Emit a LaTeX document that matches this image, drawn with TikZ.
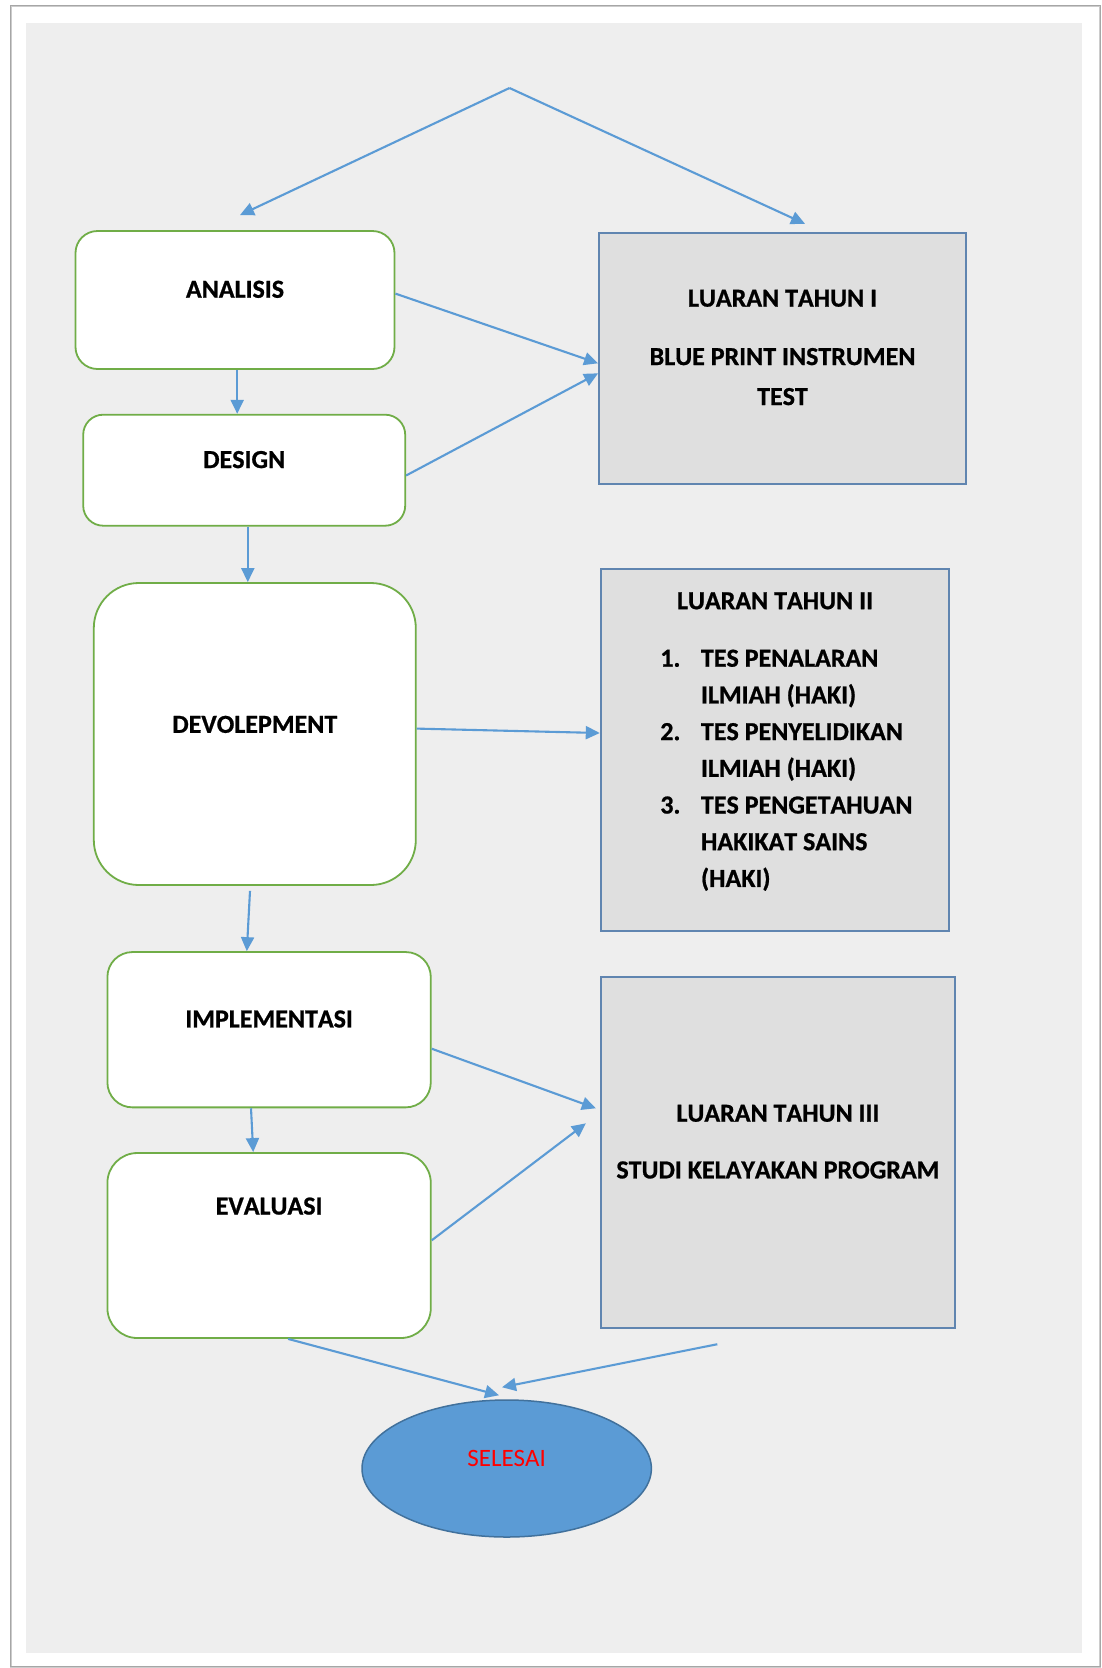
\documentclass[tikz,border=0pt]{standalone}
\usepackage{fontspec}
\setmainfont{Carlito}[Kerning=Off, BoldFeatures={FakeBold=0.8}]
\usetikzlibrary{arrows.meta,shapes.geometric}

\definecolor{flowgreen}{HTML}{70AD47}
\definecolor{flowblue}{HTML}{5B9BD5}
\definecolor{outfill}{HTML}{DFDFDF}
\definecolor{outedge}{HTML}{6085B0}
\definecolor{endedge}{HTML}{41719C}
\definecolor{pagegray}{HTML}{EEEEEE}

\newcommand{\itemno}[1]{\makebox[40.7pt][l]{#1}}

\begin{document}
\begin{tikzpicture}[x=1pt, y=-1pt,
    stepbox/.style={draw=flowgreen, line width=1.8pt, fill=white, rounded corners=#1, inner sep=0pt},
    stepbox/.default=22pt,
    outbox/.style={draw=outedge, line width=1.8pt, fill=outfill, inner sep=0pt},
    endnode/.style={draw=endedge, line width=1.5pt, fill=flowblue, ellipse, inner sep=0pt},
    boxtext/.style={font=\fontsize{26}{36.7}\selectfont\bfseries, inner sep=0pt},
    arrow/.style={draw=flowblue, line width=2.1pt, -{Triangle[length=14pt, width=13pt]}}
]
    \useasboundingbox (0,0) rectangle (1102,1668);
    % Page
    \fill[white] (0,0) rectangle (1102,1668);
    \draw[gray!40, line width=2.5pt] (11,6) rectangle (1100,1667);
    \draw[gray!70, line width=1pt] (10,5) rectangle (1100,1666);
    \fill[pagegray] (26,23) rectangle (1082,1653);

    % Steps
    \node[stepbox, minimum width=319, minimum height=138] (ana) at (235,300) {};
    \node[boxtext] (anat) at ([yshift=10.7]ana.center) {ANALISIS};
    \node[stepbox=20pt, minimum width=322, minimum height=111] (des) at (244.2,470.2) {};
    \node[boxtext] (dest) at ([yshift=10.6]des.center) {DESIGN};
    \node[stepbox=45pt, minimum width=322, minimum height=302] (dev) at (254.8,734) {};
    \node[boxtext] (devt) at ([yshift=9.6]dev.center) {DEVOLEPMENT};
    \node[stepbox=25pt, minimum width=323.4, minimum height=155.3] (imp) at (269.1,1029.7) {};
    \node[boxtext] (impt) at ([yshift=10.7]imp.center) {IMPLEMENTASI};
    \node[stepbox=30pt, minimum width=323.4, minimum height=185] (eva) at (269.1,1245.5) {};
    \node[boxtext] (evat) at ([yshift=39.4]eva.center) {EVALUASI};

    % Outputs
    \node[outbox, minimum width=367, minimum height=251.6] (lt1) at (782.5,358.5) {};
    \node[boxtext, font=\fontsize{26}{40}\selectfont\bfseries, align=center] (lt1t)
        at ([yshift=11]lt1.center) {LUARAN TAHUN I\\[18.4pt]BLUE PRINT INSTRUMEN\\TEST};
    \node[outbox, minimum width=348.6, minimum height=361.7] (lt2) at (775,750.2) {};
    \node[boxtext] (lt2t) at ([yshift=-32.4]lt2.north) {LUARAN TAHUN II};
    \node[boxtext, align=left, anchor=north west] (lt2l) at ([xshift=60.3, yshift=-81]lt2.north west)
        {\itemno{1.}TES PENALARAN\\ \itemno{}ILMIAH (HAKI)\\ \itemno{2.}TES PENYELIDIKAN\\
         \itemno{}ILMIAH (HAKI)\\ \itemno{3.}TES PENGETAHUAN\\ \itemno{}HAKIKAT SAINS\\ \itemno{}(HAKI)};
    \node[outbox, minimum width=354.3, minimum height=350.4] (lt3) at (777.9,1152.5) {};
    \node[boxtext, font=\fontsize{26}{37.7}\selectfont\bfseries, align=center] (lt3t)
        at ([yshift=10.8]lt3.center) {LUARAN TAHUN III\\[19pt]STUDI KELAYAKAN PROGRAM};

    % End
    \node[endnode, minimum width=289.4, minimum height=137] (sel) at (506.7,1468.5) {};
    \node[font=\fontsize{25}{30}\selectfont, text=red, inner sep=0pt] (selt) at ([yshift=10.5]sel.center) {SELESAI};

    % Connectors
    \coordinate (top) at (509.5,88);
    \coordinate (anatip) at ([xshift=5, yshift=15]ana.north);
    \coordinate (lt1tip) at ([xshift=22.5, yshift=8]lt1.north);
    \coordinate (lt3foot) at ([xshift=-60.6, yshift=-15.6]lt3.south);
    \draw[arrow] (top) -- (anatip);
    \draw[arrow] (top) -- (lt1tip);
    \draw[arrow] ([xshift=2.2]ana.south) -- ([xshift=-7]des.north);
    \draw[arrow] ([xshift=3.6]des.south) -- ([xshift=-7]dev.north);
    \draw[arrow] ([xshift=-4.8, yshift=-5]dev.south) -- ([xshift=-22.3]imp.north);
    \draw[arrow] ([xshift=-18.1]imp.south) -- ([xshift=-15.9]eva.north);
    \draw[arrow] ([yshift=6.4]ana.east) -- ([yshift=-4.8]lt1.west);
    \draw[arrow] ([yshift=-5.3]des.east) -- ([yshift=-14.8]lt1.west);
    \draw[arrow] ([yshift=5.4]dev.east) -- ([yshift=17.2]lt2.west);
    \draw[arrow] ([yshift=-19]imp.east) -- ([xshift=-4, yshift=44.2]lt3.west);
    \draw[arrow] ([yshift=5.2]eva.east) -- ([xshift=-14, yshift=29.2]lt3.west);
    \draw[arrow] ([xshift=19]eva.south) -- ([xshift=-7.7, yshift=4]sel.north);
    \draw[arrow] (lt3foot) -- ([xshift=-4.7, yshift=12]sel.north);
\end{tikzpicture}
\end{document}
